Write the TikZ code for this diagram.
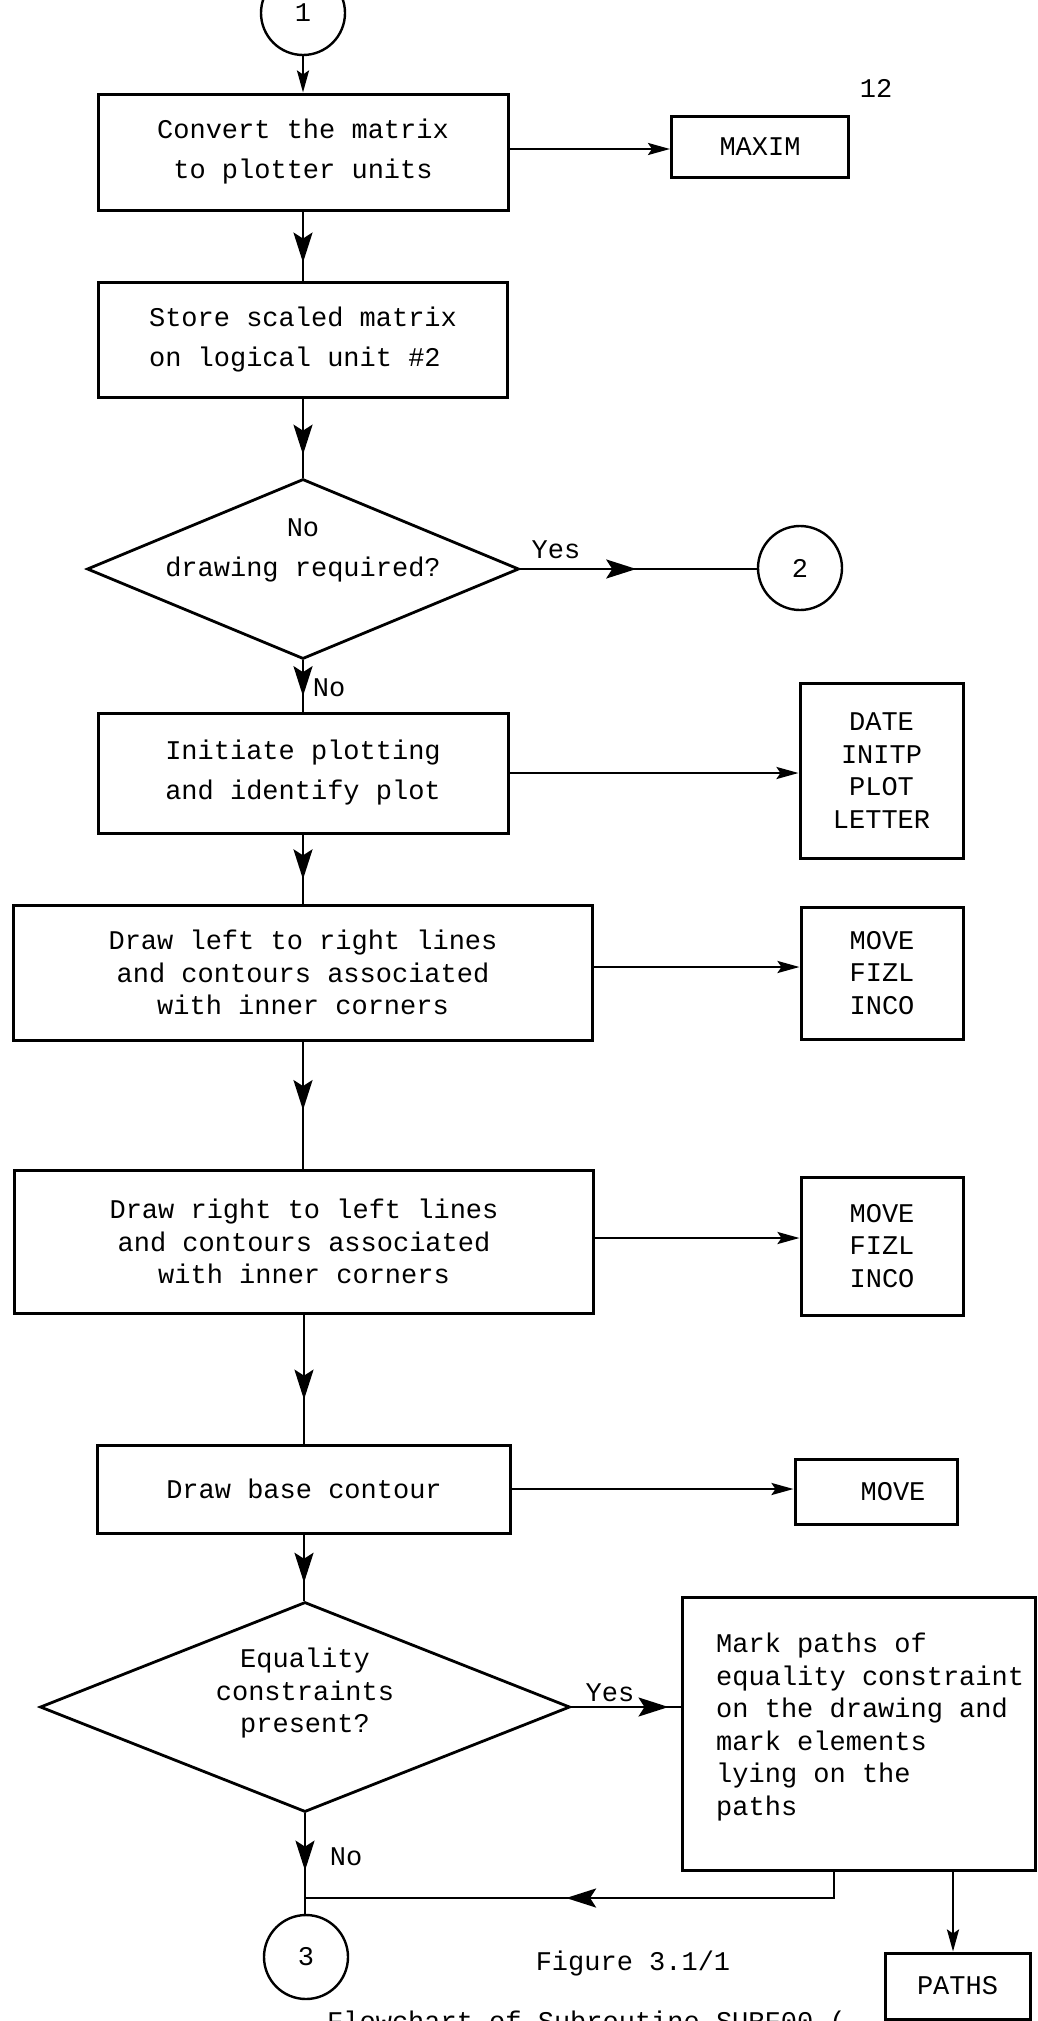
\documentclass[tikz,border=0pt]{standalone}
\usepackage{fontspec}
\setmainfont{Liberation Mono}
\usetikzlibrary{arrows.meta,decorations.markings,shapes.geometric}
\begin{document}
\begin{tikzpicture}[x=1pt,y=-1pt,
  every node/.style={font=\fontsize{27}{32.5}\selectfont, inner sep=0pt},
  box/.style={draw, line width=3pt, rectangle, align=center},
  two/.style={font=\fontsize{27}{40}\selectfont},
  dia/.style={draw, diamond, line width=2.8pt, inner sep=0pt},
  conn/.style={draw, line width=2.4pt, circle, inner sep=0pt, minimum size=84pt},
  small/.style={line width=2.6pt, -{Stealth[length=22pt,width=12pt,inset=4pt]}},
  bigat/.style={line width=2.6pt, postaction={decorate},
    decoration={markings, mark=at position #1 with {\arrow{Stealth[length=30pt,width=19pt,inset=6pt]}}}},
]
\useasboundingbox (0,0) rectangle (1037,2021);
\fill[white] (0,0) rectangle (1037,2021);

% nodes
\node[conn] (c1) at (303,13) {1};
\node[box,two,minimum width=410pt,minimum height=116pt] (b1) at (303,152) {Convert the matrix\\to plotter units};
\node[box,minimum width=177pt,minimum height=61pt] (maxim) at (760,147) {MAXIM};
\node (pg) at (876,88) {12};
\node[box,two,align=left,minimum width=409pt,minimum height=115pt] (b2) at (303,339.5) {Store scaled matrix\\on logical unit \#2};
\node[dia,minimum width=432pt,minimum height=180pt] (d1) at (303,569) {};
\node[two,align=center] (d1t) at (303,550) {No\\drawing required?};
\node[conn] (c2) at (800,568) {2};
\node (yes1) at (556,550) {Yes};
\node (no1) at (329,688) {No};
\node[box,two,minimum width=410pt,minimum height=120pt] (b3) at (303,773) {Initiate plotting\\and identify plot};
\node[box,minimum width=163pt,minimum height=175pt] (date) at (881.5,770.5) {DATE\\INITP\\PLOT\\LETTER};
\node[box,minimum width=579pt,minimum height=135pt] (b4) at (303,972.5) {Draw left to right lines\\and contours associated\\with inner corners};
\node[box,minimum width=162pt,minimum height=132pt] (m1) at (882,973) {MOVE\\FIZL\\INCO};
\node[box,minimum width=579pt,minimum height=143pt] (b5) at (304,1241.5) {Draw right to left lines\\and contours associated\\with inner corners};
\node[box,minimum width=162pt,minimum height=138pt] (m2) at (882,1246) {MOVE\\FIZL\\INCO};
\node[box,minimum width=413pt,minimum height=88pt] (b6) at (304,1489) {Draw base contour};
\node[box,minimum width=162pt,minimum height=65pt] (m3) at (876,1491.5) {\hspace*{34pt}MOVE};
\node[dia,minimum width=530pt,minimum height=210pt] (d2) at (305,1707) {};
\node[align=center] (d2t) at (305,1693) {Equality\\constraints\\present?};
\node (yes2) at (610,1693) {Yes};
\node[box,minimum width=353pt,minimum height=273pt] (mk) at (858.5,1733.5) {};
\node[anchor=north west,align=left] (mkt) at (716,1633) {Mark paths of\\equality constraint\\on the drawing and\\mark elements\\lying on the\\paths};
\node (no2) at (346,1857) {No};
\node[conn] (c3) at (306,1957) {3};
\node (fig) at (633,1963) {Figure 3.1/1};
\node[box,minimum width=145pt,minimum height=66pt] (paths) at (957.5,1986) {PATHS};
\node[anchor=base west] (cap) at (327,2030) {Flowchart of Subroutine SURF00 (};
\coordinate (j) at (305,1898);

% vertical connectors
\draw[small] (c1.south) -- (c1.south |- b1.north);
\draw[bigat=0.74] (b1.south) -- (b1.south |- b2.north);
\draw[bigat=0.71] (b2.south) -- (b2.south |- d1.north);
\draw[bigat=0.70] (d1.south) -- (d1.south |- b3.north);
\draw[bigat=0.65] (b3.south) -- (b3.south |- b4.north);
\draw[bigat=0.54] (b4.south) -- (b4.south |- b5.north);
\draw[bigat=0.66] (b5.south) -- (b5.south |- b6.north);
\draw[bigat=0.73] (b6.south) -- (b6.south |- d2.north);
\draw[bigat=0.57] (d2.south) -- (d2.south |- c3.north);
\draw[bigat=0.53] ([xshift=-24.5pt]mk.south) |- (j);
\draw[small] ([xshift=94.5pt]mk.south) -- ([xshift=94.5pt]mk.south |- paths.north);

% horizontal connectors
\draw[small] ([yshift=3pt]b1.east) -- ([yshift=3pt]b1.east -| maxim.west);
\draw[bigat=0.49] (d1.east) -- (d1.east -| c2.west);
\draw[small] (b3.east) -- (b3.east -| date.west);
\draw[small] ([yshift=5.5pt]b4.east) -- ([yshift=5.5pt]b4.east -| m1.west);
\draw[small] ([yshift=3.5pt]b5.east) -- ([yshift=3.5pt]b5.east -| m2.west);
\draw[small] (b6.east) -- (b6.east -| m3.west);
\draw[bigat=0.89] (d2.east) -- (d2.east -| mk.west);
\end{tikzpicture}
\end{document}
